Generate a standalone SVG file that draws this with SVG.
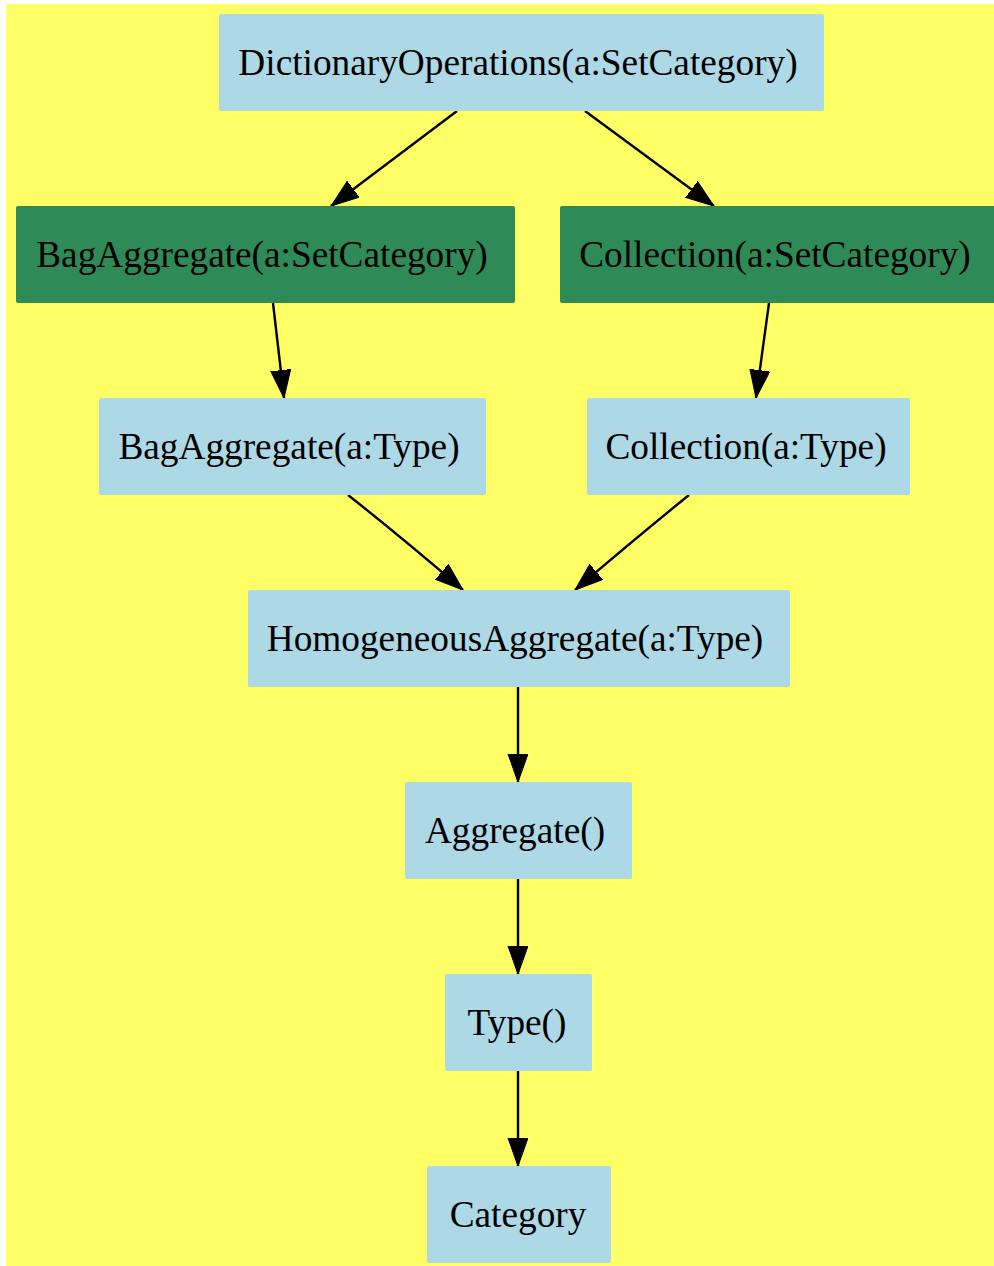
<svg xmlns="http://www.w3.org/2000/svg" width="994" height="1266" viewBox="0 0 994 1266">
<style>
.bg{fill:#ffff66}
.n{fill:#add8e6}
.g{fill:#2e8b57}
text{font-family:"Liberation Serif","Times New Roman",serif;font-size:37.3px;fill:#000;text-anchor:middle}
.e{stroke:#000;stroke-width:2.4;fill:none;marker-end:url(#ah)}
</style>
<defs>
<marker id="ah" markerUnits="userSpaceOnUse" markerWidth="30" markerHeight="22" refX="28" refY="10" orient="auto" viewBox="0 0 30 22">
<path d="M0,0 L28,10 L0,20 Z" fill="#000" stroke="#000" stroke-width="1"/>
</marker>
</defs>
<rect class="bg" x="6" y="4" width="988" height="1262"/>
<g id="edges">
<line class="e" x1="457" y1="111" x2="331" y2="206"/>
<line class="e" x1="585" y1="111" x2="714" y2="206"/>
<line class="e" x1="273" y1="303" x2="284" y2="398"/>
<line class="e" x1="769" y1="303" x2="756" y2="398"/>
<path class="e" d="M348,495 Q400,536 463,590"/>
<path class="e" d="M689,495 Q636,538 575,590"/>
<line class="e" x1="518" y1="687" x2="518" y2="782"/>
<line class="e" x1="518" y1="879" x2="518" y2="974"/>
<line class="e" x1="518" y1="1071" x2="518" y2="1166"/>
</g>
<g id="dict"><rect class="n" x="219" y="14" width="605" height="97" rx="2"/><text x="518" y="75">DictionaryOperations(a:SetCategory)</text></g>
<g id="bagset"><rect class="g" x="16" y="206" width="499" height="97" rx="2"/><text x="262" y="267">BagAggregate(a:SetCategory)</text></g>
<g id="collset"><rect class="g" x="560" y="206" width="440" height="97" rx="2"/><text x="775" y="267">Collection(a:SetCategory)</text></g>
<g id="bagtype"><rect class="n" x="99" y="398" width="387" height="97" rx="2"/><text x="289" y="459">BagAggregate(a:Type)</text></g>
<g id="colltype"><rect class="n" x="587" y="398" width="323" height="97" rx="2"/><text x="746" y="459">Collection(a:Type)</text></g>
<g id="homog"><rect class="n" x="248" y="590" width="542" height="97" rx="2"/><text x="515" y="651">HomogeneousAggregate(a:Type)</text></g>
<g id="aggregate"><rect class="n" x="405" y="782" width="227" height="97" rx="2"/><text x="515" y="843">Aggregate()</text></g>
<g id="type"><rect class="n" x="445" y="974" width="147" height="97" rx="2"/><text x="517" y="1035">Type()</text></g>
<g id="category"><rect class="n" x="427" y="1166" width="184" height="97" rx="2"/><text x="518" y="1227">Category</text></g>
</svg>
